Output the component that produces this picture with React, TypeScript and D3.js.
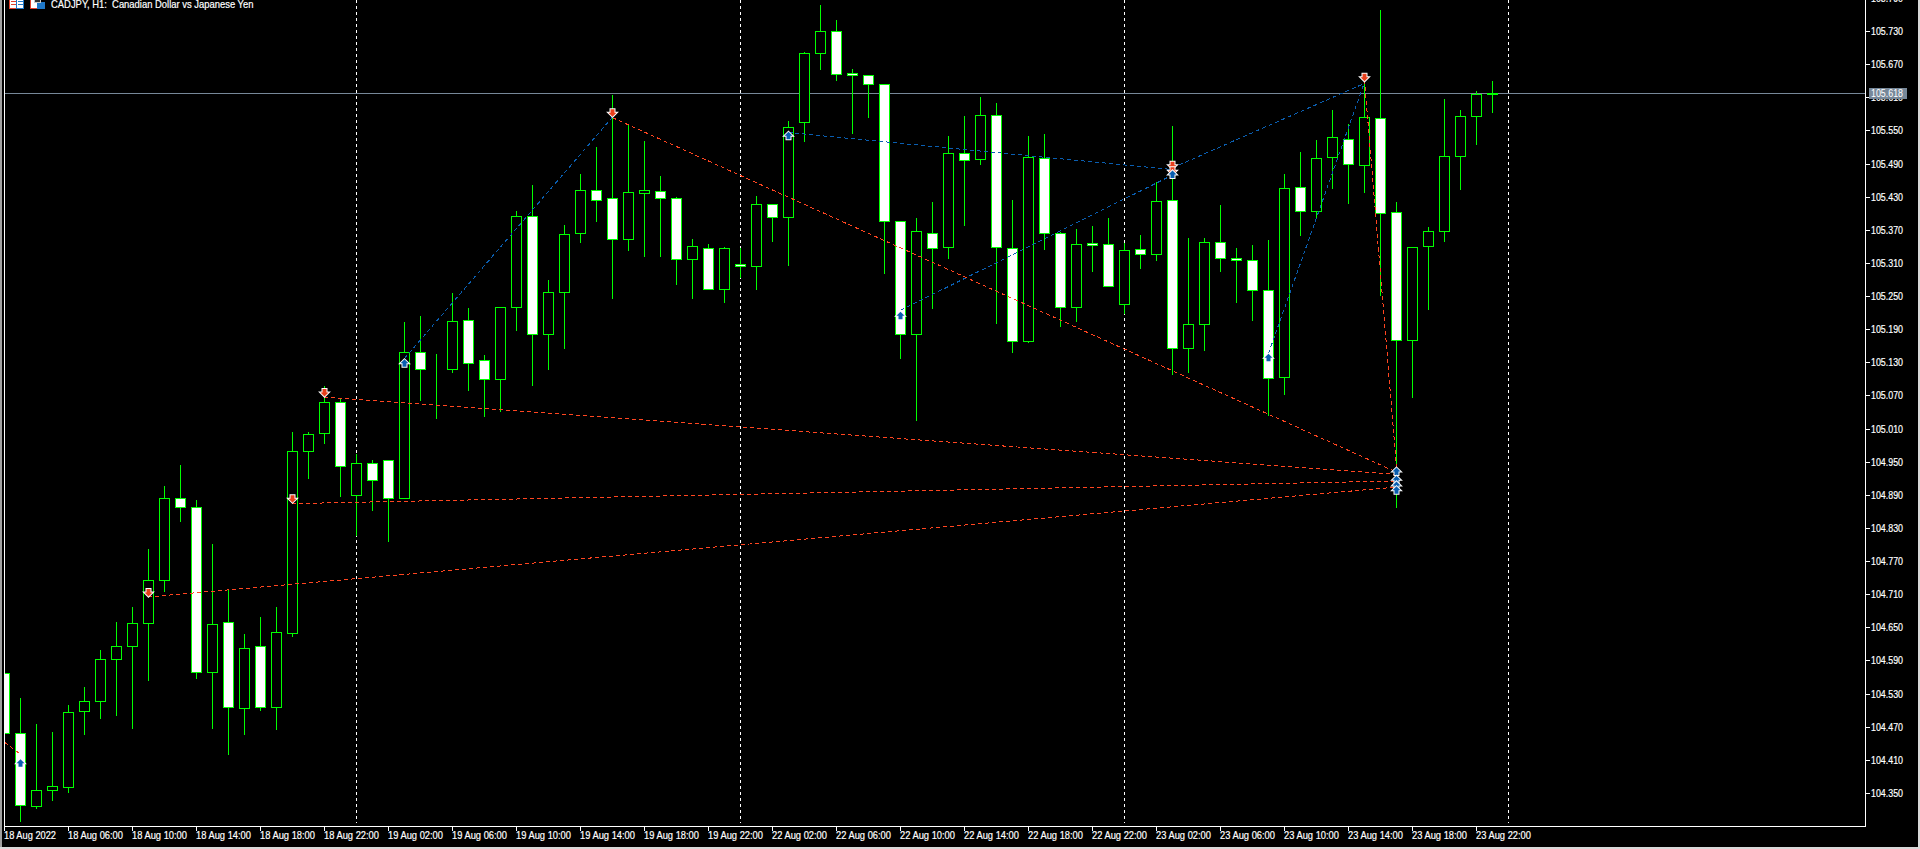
import React from "react";
import * as d3 from "d3";

const openP = [
  104.567, 104.459, 104.326, 104.355, 104.361, 104.499, 104.517, 104.593, 104.616, 104.658,
  104.736, 104.884, 104.868, 104.570, 104.660, 104.504, 104.616, 104.506, 104.640, 104.969,
  105.002, 105.058, 104.890, 104.948, 104.953, 104.884, 105.149, 105.118, 105.118, 105.207,
  105.134, 105.100, 105.230, 105.395, 105.181, 105.257, 105.364, 105.442, 105.428, 105.353,
  105.437, 105.440, 105.428, 105.317, 105.337, 105.263, 105.308, 105.304, 105.417, 105.393,
  105.565, 105.690, 105.730, 105.654, 105.650, 105.634, 105.386, 105.181, 105.364, 105.339,
  105.509, 105.498, 105.578, 105.337, 105.169, 105.500, 105.364, 105.230, 105.346, 105.344,
  105.236, 105.335, 105.326, 105.424, 105.156, 105.199, 105.348, 105.319, 105.315, 105.261,
  105.103, 105.448, 105.404, 105.502, 105.534, 105.487, 105.572, 105.402, 105.170, 105.341,
  105.368, 105.504, 105.576, 105.616,
];
const highP = [
  104.567, 104.523, 104.476, 104.463, 104.512, 104.544, 104.611, 104.662, 104.689, 104.794,
  104.908, 104.946, 104.882, 104.802, 104.719, 104.639, 104.671, 104.689, 105.006, 105.006,
  105.088, 105.066, 104.965, 104.954, 104.953, 105.205, 105.216, 105.147, 105.257, 105.230,
  105.145, 105.232, 105.405, 105.453, 105.280, 105.381, 105.472, 105.522, 105.616, 105.563,
  105.533, 105.469, 105.431, 105.355, 105.346, 105.341, 105.338, 105.433, 105.417, 105.569,
  105.694, 105.779, 105.752, 105.663, 105.653, 105.634, 105.386, 105.393, 105.423, 105.542,
  105.577, 105.613, 105.602, 105.425, 105.542, 105.545, 105.368, 105.374, 105.379, 105.394,
  105.348, 105.363, 105.458, 105.560, 105.357, 105.357, 105.417, 105.339, 105.345, 105.354,
  105.472, 105.513, 105.535, 105.588, 105.563, 105.642, 105.770, 105.423, 105.339, 105.377,
  105.609, 105.589, 105.624, 105.642,
];
const lowP = [
  104.459, 104.300, 104.322, 104.338, 104.351, 104.456, 104.486, 104.492, 104.468, 104.555,
  104.716, 104.843, 104.559, 104.468, 104.421, 104.457, 104.501, 104.465, 104.635, 104.921,
  104.984, 104.888, 104.817, 104.862, 104.806, 104.884, 105.062, 105.030, 105.112, 105.080,
  105.032, 105.041, 105.189, 105.089, 105.118, 105.155, 105.348, 105.385, 105.246, 105.334,
  105.322, 105.322, 105.271, 105.246, 105.263, 105.239, 105.284, 105.262, 105.349, 105.306,
  105.530, 105.662, 105.641, 105.545, 105.575, 105.292, 105.137, 105.025, 105.228, 105.318,
  105.379, 105.490, 105.202, 105.148, 105.166, 105.336, 105.195, 105.204, 105.295, 105.268,
  105.220, 105.300, 105.315, 105.109, 105.113, 105.153, 105.295, 105.239, 105.206, 105.034,
  105.072, 105.361, 105.391, 105.446, 105.418, 105.439, 105.251, 104.868, 105.068, 105.227,
  105.350, 105.444, 105.526, 105.584,
];
const closeP = [
  104.459, 104.328, 104.355, 104.363, 104.497, 104.517, 104.593, 104.616, 104.658, 104.736,
  104.884, 104.868, 104.569, 104.656, 104.506, 104.613, 104.506, 104.642, 104.969, 105.000,
  105.058, 104.942, 104.948, 104.917, 104.884, 105.149, 105.118, 105.118, 105.205, 105.129,
  105.100, 105.230, 105.395, 105.181, 105.257, 105.362, 105.442, 105.424, 105.353, 105.438,
  105.442, 105.428, 105.317, 105.341, 105.263, 105.337, 105.304, 105.417, 105.393, 105.556,
  105.690, 105.730, 105.652, 105.650, 105.634, 105.386, 105.181, 105.368, 105.337, 105.509,
  105.496, 105.578, 105.339, 105.169, 105.502, 105.364, 105.230, 105.344, 105.342, 105.268,
  105.333, 105.326, 105.422, 105.156, 105.199, 105.348, 105.319, 105.315, 105.261, 105.102,
  105.446, 105.404, 105.500, 105.538, 105.489, 105.574, 105.400, 105.170, 105.339, 105.368,
  105.504, 105.576, 105.616, 105.618,
];

const priceTicks = [
  105.79, 105.73, 105.67, 105.61, 105.55, 105.49, 105.43, 105.37, 105.31, 105.25, 105.19, 105.13, 105.07,
  105.01, 104.95, 104.89, 104.83, 104.77, 104.71, 104.65, 104.59, 104.53, 104.47, 104.41, 104.35,
];
const timeLabels = [
  "18 Aug 2022", "18 Aug 06:00", "18 Aug 10:00", "18 Aug 14:00", "18 Aug 18:00", "18 Aug 22:00",
  "19 Aug 02:00", "19 Aug 06:00", "19 Aug 10:00", "19 Aug 14:00", "19 Aug 18:00", "19 Aug 22:00",
  "22 Aug 02:00", "22 Aug 06:00", "22 Aug 10:00", "22 Aug 14:00", "22 Aug 18:00", "22 Aug 22:00",
  "23 Aug 02:00", "23 Aug 06:00", "23 Aug 10:00", "23 Aug 14:00", "23 Aug 18:00", "23 Aug 22:00",
];
const separatorBars = [22, 46, 70, 94];
const lastPrice = 105.618;

// [bar, price] of each deal arrow
const sellDeals = [[9, 104.714], [18, 104.884], [20, 105.076], [38, 105.583], [73, 105.488], [73, 105.478], [85, 105.647]];
const buyDeals = [[1, 104.405], [25, 105.129], [49, 105.541], [56, 105.215], [73, 105.471], [79, 105.139], [87, 104.933], [87, 104.918], [87, 104.908], [87, 104.899]];

// [bar in, price in, bar out, price out]
const blueLegs = [
  [25, 105.138, 38, 105.575],
  [49, 105.547, 73, 105.48],
  [56, 105.225, 73, 105.47],
  [73, 105.483, 85, 105.636],
  [79, 105.147, 85, 105.638],
];
const redLegs = [
  [0, 104.443, 1, 104.421],
  [9, 104.706, 87, 104.905],
  [18, 104.875, 87, 104.916],
  [20, 105.068, 87, 104.928],
  [38, 105.574, 87, 104.932],
  [85, 105.642, 87, 104.941],
];

const x = d3.scaleLinear().domain([0, 93]).range([4.5, 1492.5]);
const y = d3.scaleLinear().domain([105.73, 104.35]).range([31.5, 793.5]);
const snap = (v: number) => Math.floor(v) + 0.5;

const GREEN = "#00ff00";
const RED_DEAL = "#e8401c";
const BLUE_DEAL = "#0a5eb0";
const FONT = "'Liberation Sans', Arial, sans-serif";
const arrowUp = "M0,-4 L4,0 L2,0 L2,3.5 L-2,3.5 L-2,0 L-4,0 Z";

const Candle = ({ i }: { i: number }) => {
  const cx = snap(x(i));
  const top = snap(y(Math.max(openP[i], closeP[i])));
  const bottom = snap(y(Math.min(openP[i], closeP[i])));
  return (
    <g>
      <line x1={cx} x2={cx} y1={snap(y(highP[i]))} y2={snap(y(lowP[i])) + 0.5} stroke={GREEN} />
      <rect
        x={cx - 5}
        y={top}
        width={10}
        height={bottom - top}
        fill={closeP[i] >= openP[i] ? "#000" : "#fff"}
        stroke={GREEN}
      />
    </g>
  );
};

const Leg = ({ leg, color }: { leg: number[]; color: string }) => (
  <line
    x1={x(leg[0])}
    y1={y(leg[1])}
    x2={x(leg[2])}
    y2={y(leg[3])}
    stroke={color}
    strokeWidth={1}
    strokeDasharray="4 3"
    shapeRendering="crispEdges"
  />
);

const Deal = ({ deal, up }: { deal: number[]; up: boolean }) => (
  <path
    d={arrowUp}
    transform={`translate(${x(deal[0])},${y(deal[1])}) scale(1,${up ? 1 : -1})`}
    fill={up ? BLUE_DEAL : RED_DEAL}
    stroke="#fff"
    strokeWidth={2}
    paintOrder="stroke"
  />
);

export default function App() {
  return (
    <svg
      width={1920}
      height={849}
      style={{ position: "absolute", left: 0, top: 0, display: "block", background: "#000" }}
      fontFamily={FONT}
    >
      <defs>
        <clipPath id="plot">
          <rect x={5} y={0} width={1860} height={826} />
        </clipPath>
      </defs>
      <rect width={1920} height={849} fill="#000" />

      {/* window edges */}
      <rect x={0} y={0} width={2} height={849} fill="#a0a0a0" />
      <rect x={0} y={847} width={1920} height={2} fill="#d8d8d8" />
      <rect x={1918} y={0} width={2} height={849} fill="#d8d8d8" />

      <g clipPath="url(#plot)" shapeRendering="crispEdges">
        {separatorBars.map((b) => (
          <line key={b} x1={snap(x(b))} x2={snap(x(b))} y1={0} y2={823} stroke="#fff" strokeDasharray="3 3" />
        ))}
        <line x1={5} x2={1865} y1={snap(y(lastPrice))} y2={snap(y(lastPrice))} stroke="#778899" />
        {openP.map((_, i) => (
          <Candle key={i} i={i} />
        ))}
        {blueLegs.map((l, i) => (
          <Leg key={i} leg={l} color={BLUE_DEAL} />
        ))}
        {redLegs.map((l, i) => (
          <Leg key={i} leg={l} color="#ff4520" />
        ))}
      </g>
      <g clipPath="url(#plot)">
        {sellDeals.map((d, i) => (
          <Deal key={i} deal={d} up={false} />
        ))}
        {buyDeals.map((d, i) => (
          <Deal key={i} deal={d} up />
        ))}
      </g>

      {/* axes */}
      <g shapeRendering="crispEdges" stroke="#fff">
        <line x1={4.5} x2={4.5} y1={0} y2={827} />
        <line x1={4} x2={1866} y1={826.5} y2={826.5} />
        <line x1={1865.5} x2={1865.5} y1={0} y2={827} />
        {timeLabels.map((_, k) => (
          <line key={k} x1={snap(x(k * 4))} x2={snap(x(k * 4))} y1={826} y2={831} />
        ))}
        {priceTicks.map((p) => (
          <line key={p} x1={1865} x2={1870} y1={snap(y(p))} y2={snap(y(p))} />
        ))}
      </g>
      <g fill="#fff" stroke="#fff" strokeWidth={0.2} fontSize={11}>
        {timeLabels.map((t, k) => (
          <text
            key={t}
            x={snap(x(k * 4)) - 0.5}
            y={838.5}
            textLength={k === 0 ? 52 : 55}
            lengthAdjust="spacingAndGlyphs"
          >
            {t}
          </text>
        ))}
        {priceTicks.map((p) => (
          <text key={p} x={1871} y={snap(y(p)) + 3.5} textLength={32} lengthAdjust="spacingAndGlyphs">
            {p.toFixed(3)}
          </text>
        ))}
      </g>

      {/* last price tag */}
      <rect x={1869} y={snap(y(lastPrice)) - 5.5} width={38} height={11} fill="#778899" shapeRendering="crispEdges" />
      <text
        x={1871}
        y={snap(y(lastPrice)) + 3.5}
        fill="#fff"
        fontSize={11}
        textLength={32}
        lengthAdjust="spacingAndGlyphs"
      >
        {lastPrice.toFixed(3)}
      </text>

      {/* chart window icons and title */}
      <g shapeRendering="crispEdges">
        <rect x={9.5} y={-1} width={7} height={9} fill="#fff" stroke="#e0402c" />
        <rect x={16.5} y={-1} width={7} height={9} fill="#fff" stroke="#1f78c8" />
        <rect x={11} y={1} width={5} height={1} fill="#e0402c" />
        <rect x={11} y={4} width={5} height={1} fill="#e0402c" />
        <rect x={18} y={1} width={5} height={1} fill="#1f78c8" />
        <rect x={18} y={4} width={5} height={1} fill="#1f78c8" />
        <rect x={30.5} y={-1} width={7} height={9} fill="#fff" stroke="#e0402c" />
        <rect x={37.5} y={2} width={7} height={6} fill="#1f78c8" stroke="#1f78c8" />
        <rect x={34.5} y={-1} width={6} height={3} fill="#333" stroke="#c8c8c8" />
      </g>
      <text
        x={51}
        y={7.5}
        fill="#fff"
        stroke="#fff"
        strokeWidth={0.2}
        fontSize={11}
        textLength={202.5}
        lengthAdjust="spacingAndGlyphs"
        style={{ whiteSpace: "pre" }}
      >
        {"CADJPY, H1:  Canadian Dollar vs Japanese Yen"}
      </text>
    </svg>
  );
}
